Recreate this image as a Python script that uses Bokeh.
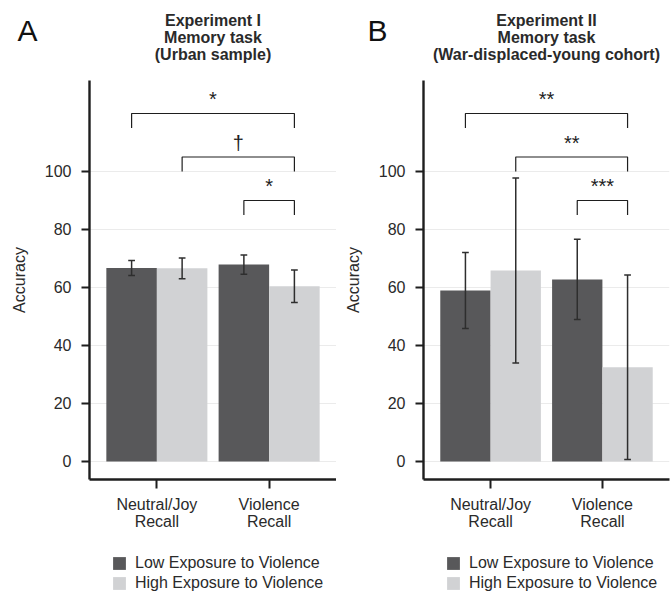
from bokeh.plotting import figure
from bokeh.models import Range1d, FixedTicker, Legend, LegendItem
from bokeh.layouts import row, column
from bokeh.embed import file_html
from bokeh.resources import INLINE
from bokeh.core.properties import value

# ---------------- data ----------------
categories = ["Neutral/Joy\nRecall", "Violence\nRecall"]
groups = ["Low Exposure to Violence", "High Exposure to Violence"]

# Experiment I (urban sample)
exp1_low = [66.7, 67.9]
exp1_low_err = [2.6, 3.3]
exp1_high = [66.6, 60.4]
exp1_high_err = [3.6, 5.6]

# Experiment II (war-displaced-young cohort)
exp2_low = [59.0, 62.8]
exp2_low_err = [13.1, 13.8]
exp2_high = [65.9, 32.5]
exp2_high_err = [31.9, 31.8]

# significance brackets (category index 1/2, group index 0=low 1=high)
bracket_start_cat = [1, 1, 2]
bracket_start_grp = [0, 1, 0]
bracket_end_cat = [2, 2, 2]
bracket_end_grp = [1, 1, 1]
bracket_height = [120, 105, 90]
bracket_drop = 5
exp1_sig = ["*", "\u2020", "*"]
exp2_sig = ["**", "**", "***"]

y_ticks = [0, 20, 40, 60, 80, 100]

panel_letters = ["A", "B"]
exp1_title = ["Experiment I", "Memory task", "(Urban sample)"]
exp2_title = ["Experiment II", "Memory task", "(War-displaced-young cohort)"]

# ---------------- style ----------------
FONT = "Liberation Sans"
DARK = "#58585a"
LIGHT = "#d1d2d4"
INK = "#1e1e1e"
ERR = "#2e2e2e"
TXT = "#2a2a2a"
BAR_W = 0.45


def xpos(cat, grp):
    return cat + (grp - 0.5) * BAR_W


def bare(p):
    p.outline_line_color = None
    p.xgrid.grid_line_color = None
    p.ygrid.grid_line_color = None
    p.background_fill_color = "white"
    p.border_fill_color = "white"


def make_panel(low, low_err, high, high_err, sig, left_border, right_border):
    p = figure(width=336, height=468, x_range=Range1d(0.4, 2.6),
               y_range=Range1d(-6.21, 131.38), output_backend="svg",
               toolbar_location=None, min_border_left=left_border,
               min_border_right=right_border, min_border_top=0, min_border_bottom=69)
    p.outline_line_color = None
    p.background_fill_color = "white"
    p.border_fill_color = "white"

    cats = [1, 2]
    x_low = [xpos(c, 0) for c in cats]
    x_high = [xpos(c, 1) for c in cats]
    p.vbar(x=x_low, top=low, bottom=0, width=BAR_W, fill_color=DARK, line_color=None)
    p.vbar(x=x_high, top=high, bottom=0, width=BAR_W, fill_color=LIGHT, line_color=None)

    # error bars
    xs = x_low + x_high
    vals = list(low) + list(high)
    errs = list(low_err) + list(high_err)
    lo = [v - e for v, e in zip(vals, errs)]
    hi = [v + e for v, e in zip(vals, errs)]
    p.segment(x0=xs, y0=lo, x1=xs, y1=hi, line_color=ERR, line_width=1.5)
    cap = 0.03
    p.segment(x0=[x - cap for x in xs], y0=lo, x1=[x + cap for x in xs], y1=lo, line_color=ERR, line_width=1.5)
    p.segment(x0=[x - cap for x in xs], y0=hi, x1=[x + cap for x in xs], y1=hi, line_color=ERR, line_width=1.5)

    # significance brackets
    bx0 = [xpos(c, g) for c, g in zip(bracket_start_cat, bracket_start_grp)]
    bx1 = [xpos(c, g) for c, g in zip(bracket_end_cat, bracket_end_grp)]
    mxs = [[a, a, b, b] for a, b in zip(bx0, bx1)]
    mys = [[h - bracket_drop, h, h, h - bracket_drop] for h in bracket_height]
    p.multi_line(xs=mxs, ys=mys, line_color=INK, line_width=1.2)
    p.text(x=[(a + b) / 2 for a, b in zip(bx0, bx1)], y=[h + 5.0 for h in bracket_height],
           text=sig, text_align="center", text_baseline="middle",
           text_font=value(FONT), text_font_size="20px", text_color=INK)

    # axes
    p.xgrid.grid_line_color = None
    p.ygrid.grid_line_color = "#ebebeb"
    p.ygrid.grid_line_width = 1
    p.yaxis.ticker = FixedTicker(ticks=y_ticks)
    p.xaxis.ticker = FixedTicker(ticks=cats)
    p.xaxis.major_label_overrides = {1: categories[0], 2: categories[1]}
    for ax in (p.xaxis[0], p.yaxis[0]):
        ax.axis_line_width = 2.4
        ax.axis_line_color = INK
        ax.major_tick_line_width = 2
        ax.major_tick_line_color = INK
        ax.major_tick_in = 0
        ax.minor_tick_out = 0
        ax.minor_tick_in = 0
        ax.major_label_text_font = FONT
        ax.major_label_text_font_size = "16px"
        ax.major_label_text_color = TXT
    p.yaxis.major_tick_out = 8
    p.yaxis.major_label_standoff = 10
    p.xaxis.major_tick_out = 9
    p.xaxis.major_label_standoff = 7
    p.xaxis.major_label_text_line_height = 1.0
    p.yaxis.axis_label = "Accuracy"
    p.yaxis.axis_label_text_font = FONT
    p.yaxis.axis_label_text_font_size = "16px"
    p.yaxis.axis_label_text_font_style = "normal"
    p.yaxis.axis_label_text_color = TXT
    p.yaxis.axis_label_standoff = 14
    return p


pA = make_panel(exp1_low, exp1_low_err, exp1_high, exp1_high_err, exp1_sig, 89, 0)
pB = make_panel(exp2_low, exp2_low_err, exp2_high, exp2_high_err, exp2_sig, 87, 3)

# ---------------- titles strip ----------------
top = figure(width=672, height=80, x_range=Range1d(0, 672), y_range=Range1d(80, 0),
             output_backend="svg", toolbar_location=None, x_axis_type=None, y_axis_type=None,
             min_border=0)
bare(top)
title_cx = [212.5, 546]
title_mid = [20, 36.5, 53.5]
for cx, lines in zip(title_cx, [exp1_title, exp2_title]):
    top.text(x=[cx] * len(lines), y=title_mid, text=lines, text_align="center",
             text_baseline="middle", text_font=value(FONT), text_font_size="16px",
             text_font_style="bold", text_color=TXT)
top.text(x=[17, 367], y=[30, 30], text=panel_letters, text_align="left",
         text_baseline="middle", text_font=value(FONT), text_font_size="30px",
         text_color="#111111")

# ---------------- legend strip ----------------
leg = figure(width=672, height=44, x_range=Range1d(0, 1), y_range=Range1d(0, 1),
             output_backend="svg", toolbar_location=None, x_axis_type=None, y_axis_type=None,
             min_border=0)
bare(leg)
# legend keys: zero-height bars, only their legend swatches show
k_low = leg.vbar(x=[0.5], top=[0], bottom=0, width=0.01, fill_color=DARK, line_color=None)
k_high = leg.vbar(x=[0.5], top=[0], bottom=0, width=0.01, fill_color=LIGHT, line_color=None)
for lx in (111, 445):
    lg = Legend(items=[LegendItem(label=groups[0], renderers=[k_low]),
                       LegendItem(label=groups[1], renderers=[k_high])],
                location=(lx, 0), orientation="vertical",
                padding=0, margin=0, spacing=2, glyph_width=16, glyph_height=16,
                label_standoff=8, label_text_font=FONT, label_text_font_size="16px",
                label_text_color=TXT, border_line_color=None, background_fill_alpha=0)
    leg.add_layout(lg)

layout = column(top, row(pA, pB), leg)
open("out.html", "w").write(file_html(layout, INLINE))
